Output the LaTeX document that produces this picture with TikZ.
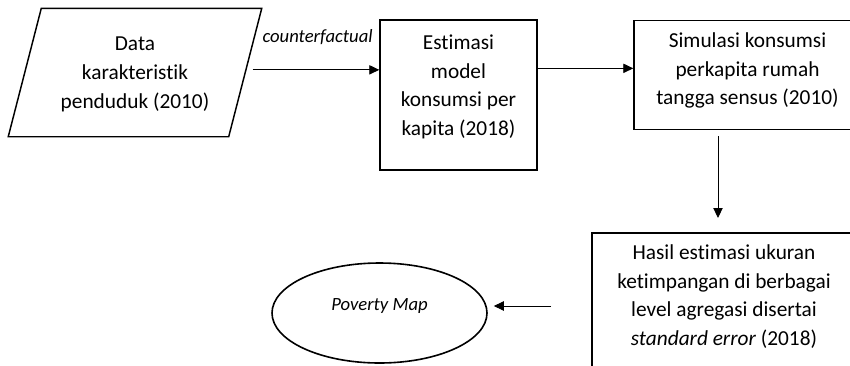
\documentclass[tikz,border=0pt]{standalone}
\usepackage{fontspec}
\setmainfont{Carlito}[Ligatures=NoCommon]
\usetikzlibrary{shapes.geometric,arrows.meta,positioning}
\begin{document}
\begin{tikzpicture}[x=0.75pt,y=-0.75pt,
    box/.style={draw,line width=1.1pt,align=center,font=\fontsize{16}{21.5}\selectfont},
    arr/.style={line width=0.7pt,-{Triangle[length=7.5pt,width=7pt]}}]
    \clip (0,0) rectangle (850,365);

    % input data and the model
    \node[box,draw=none,minimum width=164.25pt,minimum height=95.25pt,text depth=0pt] (data) at (135,72.5) {Data\\karakteristik\\penduduk (2010)};
    \draw[line width=1.1pt] ([xshift=-12.4pt]data.south west) -- ([xshift=-12.4pt]data.south east)
        -- ([xshift=12.4pt]data.north east) -- ([xshift=12.4pt]data.north west) -- cycle;
    \node[box,minimum width=117.75pt,minimum height=112.5pt,text depth=15pt] (est) at (458.5,95) {Estimasi\\model\\konsumsi per\\kapita (2018)};
    \node[box,minimum width=170.25pt,minimum height=81.5pt,text depth=9.5pt] (sim) at (747.5,75) {Simulasi konsumsi\\perkapita rumah\\tangga sensus (2010)};

    % results
    \node[box,minimum width=198pt,minimum height=125.25pt,text depth=32pt] (hasil) at (724,316.5) {Hasil estimasi ukuran\\ketimpangan di berbagai\\level agregasi disertai\\\textit{standard error} (2018)};
    \node[draw,ellipse,line width=1.2pt,minimum width=161.25pt,minimum height=75pt,text depth=12.5pt,
          font=\fontsize{14}{17}\selectfont\itshape] (pmap) at (379.5,313) {Poverty Map};

    \coordinate (drop) at (718,218);
    \coordinate (feed) at (551,306);

    \draw[arr,shorten <=5.5pt] ([yshift=2pt]data.east) -- node[pos=0.54,above=15pt,font=\fontsize{14}{17}\selectfont\itshape] (cf) {counterfactual} ([yshift=2pt]data.east -| est.west);
    \draw[arr] ([yshift=5pt]sim.west -| est.east) -- ([yshift=5pt]sim.west);
    \draw[arr,shorten <=4.5pt] (sim.south -| drop) -- (drop);
    \draw[arr,shorten >=4.5pt] (feed) -- (feed -| pmap.east);
\end{tikzpicture}
\end{document}
